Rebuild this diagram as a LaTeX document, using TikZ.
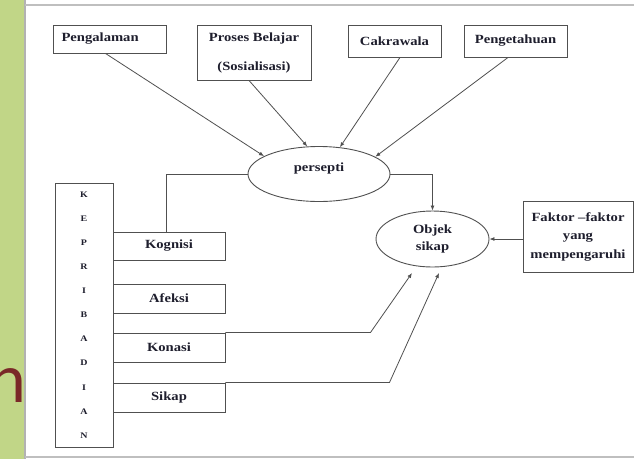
\documentclass[tikz,border=0pt]{standalone}
\usepackage{fontspec}
\setmainfont{Liberation Serif}
\newfontfamily\lblfont[FakeStretch=1.17,Ligatures=TeX]{Liberation Serif Bold}
\newfontfamily\slidefont{Lato}
\usetikzlibrary{shapes.geometric,arrows.meta,calc}
\definecolor{slidegreen}{RGB}{193,214,135}
\definecolor{slidered}{RGB}{122,40,40}
\definecolor{ln}{RGB}{80,80,80}
\definecolor{txt}{RGB}{30,30,45}
\tikzset{
  lbl/.style={font=\lblfont\fontsize{12.5}{15}\selectfont, text=txt},
  box/.style={draw=ln, line width=0.9pt, inner sep=0pt, lbl, align=center},
  elli/.style={ellipse, draw=ln, line width=0.9pt, inner sep=0pt, lbl, align=center},
  conn/.style={draw=ln, line width=0.8pt},
  arr/.style={conn, -{Latex[length=5pt,width=4pt]}},
}
\begin{document}
\begin{tikzpicture}[x=1pt,y=-1pt]
\useasboundingbox (0,0) rectangle (634,459);
\clip (0,0) rectangle (634,459);
% slide background
\fill[slidegreen] (0,0) rectangle (25,459);
\node[font=\slidefont\fontsize{66}{70}\selectfont, text=slidered, anchor=base east, inner sep=0pt] (nchar) at (27,402) {n};
\fill[white] (25,0) rectangle (634,459);
\draw[gray!60, line width=1.6pt] (25,0) -- (25,459);
\draw[gray!50, line width=1.2pt] (25,5) -- (634,5);
\draw[gray!50, line width=1.2pt] (25,457) -- (634,457);

% top boxes
\node[box, text width=96pt, align=left, minimum width=113pt, minimum height=28pt] (peng) at (109.5,39) {Pengalaman};
\node[box, minimum width=114pt, minimum height=55pt] (proses) at (254,52.5) {Proses Belajar\\[14pt](Sosialisasi)};
\node[box, minimum width=93pt, minimum height=32pt] (cakra) at (394.5,41) {Cakrawala};
\node[box, minimum width=103pt, minimum height=32pt] (penget) at (515.5,41) {Pengetahuan};

% ellipses
\node[elli, minimum width=142pt, minimum height=55pt, text height=8pt, text depth=14pt] (pers) at (319,174) {persepti};
\node[elli, minimum width=113pt, minimum height=56pt] (obj) at (432.5,239) {Objek\\[2pt]sikap};

% factor box
\node[box, minimum width=110pt, minimum height=71pt] (faktor) at (578,236.5) {Faktor –faktor\\[3.5pt]yang\\[3.5pt]mempengaruhi};

% kepribadian column
\node[box, minimum width=58pt, minimum height=264pt, font=\lblfont\fontsize{8.5}{24.1}\selectfont] (kep) at (84,315) {K\\E\\P\\R\\I\\B\\A\\D\\I\\A\\N};

% components
\node[box, minimum width=112pt, minimum height=28pt] (kog) at (169,246) {Kognisi};
\node[box, minimum width=112pt, minimum height=29pt] (afe) at (169,298.5) {Afeksi};
\node[box, minimum width=112pt, minimum height=29pt] (kon) at (169,347.5) {Konasi};
\node[box, minimum width=112pt, minimum height=29pt] (sik) at (169,397.5) {Sikap};

% arrows into persepti
\draw[arr] ($(peng.south)+(-4,0)$) -- (pers.162);
\draw[arr] ($(proses.south)+(-5,0)$) -- (pers.113);
\draw[arr] ($(cakra.south)+(5.5,0)$) -- (pers.52);
\draw[arr] ($(penget.south)+(-7.5,0)$) -- (pers.17);

% persepti to objek
\draw[arr] (pers.east) -| (obj.north);
% kognisi to persepti
\draw[conn] ($(kog.north)+(-3,0)$) |- (pers.west);
% faktor to objek
\draw[arr] (faktor.west |- obj.east) -- (obj.east);

% konasi and sikap to objek
\coordinate (konbend) at ($(kon.north east)+(145,0)$);
\coordinate (kontip) at (412,273);
\coordinate (sikbend) at ($(sik.north east)+(164,0)$);
\coordinate (siktip) at (439,273);
\draw[arr] (kon.north east) -- (konbend) -- (kontip);
\draw[arr] (sik.north east) -- (sikbend) -- (siktip);
\end{tikzpicture}
\end{document}
